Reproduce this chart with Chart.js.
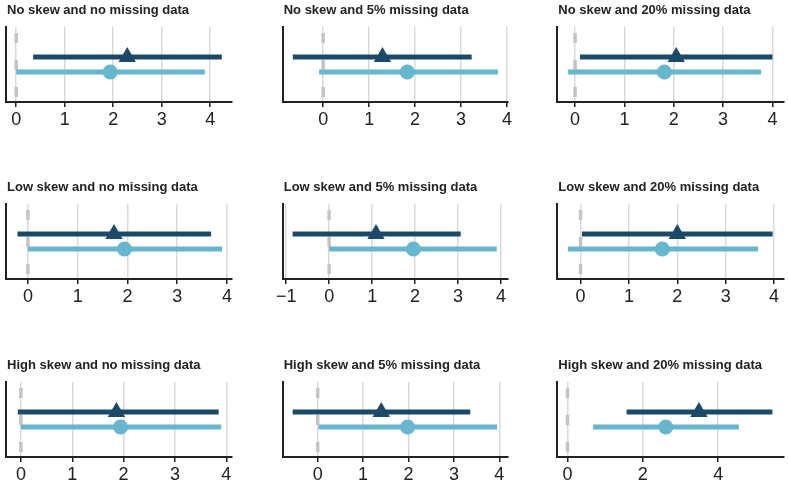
<!DOCTYPE html>
<html><head><meta charset="utf-8">
<script src="https://cdn.jsdelivr.net/npm/chart.js@4.4.1/dist/chart.umd.min.js"></script>
<style>
html,body{margin:0;padding:0;background:#fff;overflow:hidden;}
#wrap{position:relative;width:788px;height:485px;overflow:hidden;background:#fff;}
canvas{position:absolute;}
</style></head><body><div id="wrap"></div>
<script>
// ---- data ----
const titles = [
  "No skew and no missing data", "No skew and 5% missing data", "No skew and 20% missing data",
  "Low skew and no missing data", "Low skew and 5% missing data", "Low skew and 20% missing data",
  "High skew and no missing data", "High skew and 5% missing data", "High skew and 20% missing data"
];
const darkLow   = [0.35, -0.66, 0.10, -0.21, -0.85, 0.03, -0.06, -0.55, 1.57];
const darkHigh  = [4.24,  3.23, 4.00,  3.68,  3.06, 3.97,  3.85,  3.36, 5.44];
const darkEst   = [2.29,  1.29, 2.05,  1.73,  1.09, 2.00,  1.86,  1.40, 3.49];
const lightLow  = [0.00, -0.09, -0.14, 0.00, 0.00, -0.26, 0.00, 0.02, 0.68];
const lightHigh = [3.89,  3.80,  3.77, 3.90, 3.90,  3.67, 3.90, 3.95, 4.55];
const lightEst  = [1.94,  1.83,  1.81, 1.94, 1.96,  1.69, 1.94, 1.98, 2.61];
const axisMin   = [-0.21, -0.88, -0.36, -0.44, -1.08, -0.48, -0.29, -0.77, -0.27];
const axisMax   = [4.45,  4.02,  4.22,  4.10,  4.16,  4.19,  4.11,  4.19,  5.73];
const tickValues = [
  [0,1,2,3,4], [0,1,2,3,4], [0,1,2,3,4],
  [0,1,2,3,4], [-1,0,1,2,3,4], [0,1,2,3,4],
  [0,1,2,3,4], [0,1,2,3,4], [0,2,4]
];

// ---- layout / style ----
const DARK = '#1b4a68', LIGHT = '#66b6cd';
const DARK_ROW = 3, LIGHT_ROW = 2, Y_MIN = 0, Y_MAX = 5;
const colLeft = [0, 262, 524], colWidth = [262, 262, 264];
const padL = [6, 20.7, 33.3], padR = [30, 16, 4.7];
const rowTop = [0, 176.5, 354.5];
const CANVAS_H = 140, TOP_PAD = 27, AREA_H = 75;

const titlePlugin = {
  id: 'ptitle',
  afterDraw(chart, args, opts) {
    const ctx = chart.ctx;
    ctx.save();
    ctx.font = 'bold 13px "Liberation Sans", Arial, sans-serif';
    ctx.fillStyle = '#222';
    ctx.textAlign = 'left';
    ctx.textBaseline = 'alphabetic';
    ctx.fillText(opts.text, chart.chartArea.left + 1, chart.chartArea.top - 13);
    ctx.restore();
  }
};

const wrap = document.getElementById('wrap');
for (let i = 0; i < 9; i++) {
  const r = Math.floor(i / 3), c = i % 3;
  const cv = document.createElement('canvas');
  cv.width = colWidth[c]; cv.height = CANVAS_H;
  cv.style.left = colLeft[c] + 'px'; cv.style.top = rowTop[r] + 'px';
  cv.style.width = colWidth[c] + 'px'; cv.style.height = CANVAS_H + 'px';
  wrap.appendChild(cv);
  const ticksArr = tickValues[i];
  new Chart(cv, {
    type: 'line',
    data: {
      datasets: [
        { data: [{x: darkEst[i], y: DARK_ROW}], showLine: false, pointStyle: 'triangle', pointRadius: 10,
          pointBackgroundColor: DARK, pointBorderWidth: 0, order: 1 },
        { data: [{x: lightEst[i], y: LIGHT_ROW}], showLine: false, pointStyle: 'circle', pointRadius: 7.5,
          pointBackgroundColor: LIGHT, pointBorderWidth: 0, order: 1 },
        { data: [{x: darkLow[i], y: DARK_ROW}, {x: darkHigh[i], y: DARK_ROW}], borderColor: DARK, borderWidth: 5,
          pointRadius: 0, order: 3 },
        { data: [{x: lightLow[i], y: LIGHT_ROW}, {x: lightHigh[i], y: LIGHT_ROW}], borderColor: LIGHT, borderWidth: 5,
          pointRadius: 0, order: 3 },
        { data: [{x: 0, y: Y_MAX}, {x: 0, y: Y_MIN}], borderColor: '#c4c4c4', borderWidth: 3.5,
          borderDash: [10, 17], borderDashOffset: 21, pointRadius: 0, order: 5 }
      ]
    },
    options: {
      responsive: false, animation: false, devicePixelRatio: 1,
      layout: { autoPadding: false, padding: { left: padL[c], right: padR[c], top: TOP_PAD, bottom: 0 } },
      plugins: { legend: { display: false }, tooltip: { enabled: false }, ptitle: { text: titles[i] } },
      scales: {
        x: {
          type: 'linear', min: axisMin[i], max: axisMax[i],
          afterBuildTicks: (s) => { s.ticks = ticksArr.map(v => ({ value: v })); },
          afterFit: (s) => { s.height = CANVAS_H - TOP_PAD - AREA_H; s.paddingLeft = 0; s.paddingRight = 0; },
          ticks: { font: { family: '"Liberation Sans", Arial, sans-serif', size: 18 }, color: '#222', padding: 2,
                   maxRotation: 0, autoSkip: false,
                   callback: (v) => (v < 0 ? '\u2212' + Math.abs(v) : String(v)) },
          grid: { color: '#d9d9d9', lineWidth: 1.5, tickColor: '#222', tickLength: 5 },
          border: { color: '#222', width: 2 }
        },
        y: {
          type: 'linear', min: Y_MIN, max: Y_MAX,
          afterFit: (s) => { s.width = 0; s.paddingTop = 0; s.paddingBottom = 0; },
          ticks: { display: false }, grid: { display: false },
          border: { color: '#222', width: 2 }
        }
      }
    },
    plugins: [titlePlugin]
  });
}
</script></body></html>
